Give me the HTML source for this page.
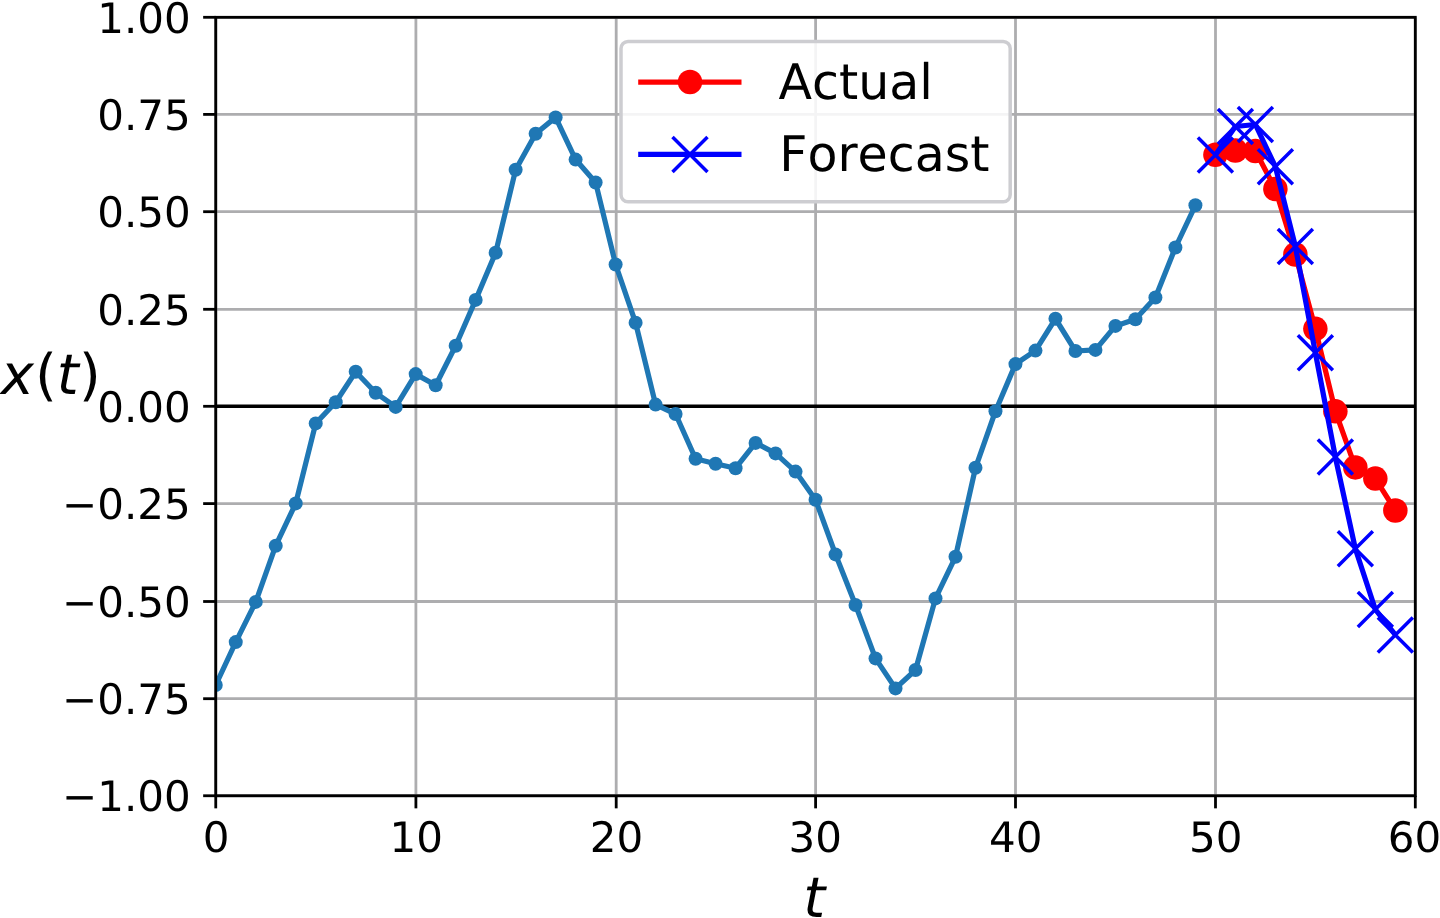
<!DOCTYPE html>
<html lang="en"><head><meta charset="utf-8"><title>Forecast plot</title>
<style>
html,body{margin:0;padding:0;background:#fff;}
body{width:1440px;height:918px;overflow:hidden;}
svg{display:block;}
text{font-family:"DejaVu Sans","Liberation Sans",sans-serif;fill:#000;font-kerning:none;text-rendering:geometricPrecision;}
.tk{font-size:42px;}
.lg{font-size:49px;}
.ax{font-size:56px;}
.it{font-style:italic;}
</style></head><body>
<svg width="1440" height="918" viewBox="0 0 1440 918">
<rect width="1440" height="918" fill="#fff"/>
<defs><clipPath id="c"><rect x="215.75" y="17.30" width="1199.55" height="778.45"/></clipPath>
<g id="xm"><path d="M-17.5,-17.5L17.5,17.5M-17.5,17.5L17.5,-17.5" stroke="#0000ff" stroke-width="3.5" fill="none"/></g>
</defs>
<g stroke="#adadaf" stroke-width="2.8" fill="none">
<line x1="215.75" y1="17.3" x2="215.75" y2="795.75"/>
<line x1="415.9" y1="17.3" x2="415.9" y2="795.75"/>
<line x1="616.2" y1="17.3" x2="616.2" y2="795.75"/>
<line x1="815.6" y1="17.3" x2="815.6" y2="795.75"/>
<line x1="1015.5" y1="17.3" x2="1015.5" y2="795.75"/>
<line x1="1215.5" y1="17.3" x2="1215.5" y2="795.75"/>
<line x1="1415.3" y1="17.3" x2="1415.3" y2="795.75"/>
<line x1="215.75" y1="17.3" x2="1415.3" y2="17.3"/>
<line x1="215.75" y1="114.4" x2="1415.3" y2="114.4"/>
<line x1="215.75" y1="211.7" x2="1415.3" y2="211.7"/>
<line x1="215.75" y1="309.3" x2="1415.3" y2="309.3"/>
<line x1="215.75" y1="406.3" x2="1415.3" y2="406.3"/>
<line x1="215.75" y1="503.6" x2="1415.3" y2="503.6"/>
<line x1="215.75" y1="601.5" x2="1415.3" y2="601.5"/>
<line x1="215.75" y1="698.7" x2="1415.3" y2="698.7"/>
<line x1="215.75" y1="795.75" x2="1415.3" y2="795.75"/>
</g>
<g clip-path="url(#c)">
<line x1="215.75" y1="406.3" x2="1420.3" y2="406.3" stroke="#000" stroke-width="3.5"/>
<polyline points="215.75,685.00 235.74,642.10 255.74,601.90 275.73,545.70 295.72,503.40 315.71,423.40 335.71,402.20 355.70,371.80 375.69,392.80 395.69,406.90 415.68,374.10 435.67,385.30 455.67,345.70 475.66,299.90 495.65,252.70 515.64,169.75 535.64,133.75 555.63,117.40 575.62,159.60 595.62,182.50 615.61,264.50 635.60,322.80 655.60,404.60 675.59,414.00 695.58,458.80 715.58,463.70 735.57,468.20 755.56,442.90 775.55,453.40 795.55,471.60 815.54,499.70 835.53,554.40 855.53,605.00 875.52,658.40 895.51,688.40 915.50,670.00 935.50,598.40 955.49,556.80 975.48,467.80 995.48,411.20 1015.47,364.10 1035.46,350.60 1055.46,318.75 1075.45,351.00 1095.44,349.90 1115.43,325.90 1135.43,319.30 1155.42,297.50 1175.41,247.50 1195.41,205.30" fill="none" stroke="#1f77b4" stroke-width="5.25" stroke-linejoin="round" stroke-linecap="butt"/>
<g fill="#1f77b4">
<circle cx="215.75" cy="685.00" r="7.0"/>
<circle cx="235.74" cy="642.10" r="7.0"/>
<circle cx="255.74" cy="601.90" r="7.0"/>
<circle cx="275.73" cy="545.70" r="7.0"/>
<circle cx="295.72" cy="503.40" r="7.0"/>
<circle cx="315.71" cy="423.40" r="7.0"/>
<circle cx="335.71" cy="402.20" r="7.0"/>
<circle cx="355.70" cy="371.80" r="7.0"/>
<circle cx="375.69" cy="392.80" r="7.0"/>
<circle cx="395.69" cy="406.90" r="7.0"/>
<circle cx="415.68" cy="374.10" r="7.0"/>
<circle cx="435.67" cy="385.30" r="7.0"/>
<circle cx="455.67" cy="345.70" r="7.0"/>
<circle cx="475.66" cy="299.90" r="7.0"/>
<circle cx="495.65" cy="252.70" r="7.0"/>
<circle cx="515.64" cy="169.75" r="7.0"/>
<circle cx="535.64" cy="133.75" r="7.0"/>
<circle cx="555.63" cy="117.40" r="7.0"/>
<circle cx="575.62" cy="159.60" r="7.0"/>
<circle cx="595.62" cy="182.50" r="7.0"/>
<circle cx="615.61" cy="264.50" r="7.0"/>
<circle cx="635.60" cy="322.80" r="7.0"/>
<circle cx="655.60" cy="404.60" r="7.0"/>
<circle cx="675.59" cy="414.00" r="7.0"/>
<circle cx="695.58" cy="458.80" r="7.0"/>
<circle cx="715.58" cy="463.70" r="7.0"/>
<circle cx="735.57" cy="468.20" r="7.0"/>
<circle cx="755.56" cy="442.90" r="7.0"/>
<circle cx="775.55" cy="453.40" r="7.0"/>
<circle cx="795.55" cy="471.60" r="7.0"/>
<circle cx="815.54" cy="499.70" r="7.0"/>
<circle cx="835.53" cy="554.40" r="7.0"/>
<circle cx="855.53" cy="605.00" r="7.0"/>
<circle cx="875.52" cy="658.40" r="7.0"/>
<circle cx="895.51" cy="688.40" r="7.0"/>
<circle cx="915.50" cy="670.00" r="7.0"/>
<circle cx="935.50" cy="598.40" r="7.0"/>
<circle cx="955.49" cy="556.80" r="7.0"/>
<circle cx="975.48" cy="467.80" r="7.0"/>
<circle cx="995.48" cy="411.20" r="7.0"/>
<circle cx="1015.47" cy="364.10" r="7.0"/>
<circle cx="1035.46" cy="350.60" r="7.0"/>
<circle cx="1055.46" cy="318.75" r="7.0"/>
<circle cx="1075.45" cy="351.00" r="7.0"/>
<circle cx="1095.44" cy="349.90" r="7.0"/>
<circle cx="1115.43" cy="325.90" r="7.0"/>
<circle cx="1135.43" cy="319.30" r="7.0"/>
<circle cx="1155.42" cy="297.50" r="7.0"/>
<circle cx="1175.41" cy="247.50" r="7.0"/>
<circle cx="1195.41" cy="205.30" r="7.0"/>
</g>
<polyline points="1215.40,154.80 1235.39,150.50 1255.39,151.00 1275.38,189.00 1295.37,254.50 1315.37,328.80 1335.36,411.30 1355.35,467.40 1375.34,478.60 1395.34,510.50" fill="none" stroke="#ff0000" stroke-width="5.25" stroke-linejoin="round"/>
<g fill="#ff0000">
<circle cx="1215.40" cy="154.80" r="12.25"/>
<circle cx="1235.39" cy="150.50" r="12.25"/>
<circle cx="1255.39" cy="151.00" r="12.25"/>
<circle cx="1275.38" cy="189.00" r="12.25"/>
<circle cx="1295.37" cy="254.50" r="12.25"/>
<circle cx="1315.37" cy="328.80" r="12.25"/>
<circle cx="1335.36" cy="411.30" r="12.25"/>
<circle cx="1355.35" cy="467.40" r="12.25"/>
<circle cx="1375.34" cy="478.60" r="12.25"/>
<circle cx="1395.34" cy="510.50" r="12.25"/>
</g>
<polyline points="1215.40,155.00 1235.39,126.50 1255.39,124.50 1275.38,166.70 1295.37,246.50 1315.37,352.70 1335.36,457.10 1355.35,548.70 1375.34,609.50 1395.34,634.90" fill="none" stroke="#0000ff" stroke-width="5.25" stroke-linejoin="round"/>
<use href="#xm" x="1215.40" y="155.00"/>
<use href="#xm" x="1235.39" y="126.50"/>
<use href="#xm" x="1255.39" y="124.50"/>
<use href="#xm" x="1275.38" y="166.70"/>
<use href="#xm" x="1295.37" y="246.50"/>
<use href="#xm" x="1315.37" y="352.70"/>
<use href="#xm" x="1335.36" y="457.10"/>
<use href="#xm" x="1355.35" y="548.70"/>
<use href="#xm" x="1375.34" y="609.50"/>
<use href="#xm" x="1395.34" y="634.90"/>
</g>
<rect x="215.75" y="17.3" width="1199.55" height="778.45" fill="none" stroke="#000" stroke-width="2.8"/>
<g stroke="#000" stroke-width="2.8">
<line x1="215.75" y1="795.75" x2="215.75" y2="808.35"/>
<line x1="415.9" y1="795.75" x2="415.9" y2="808.35"/>
<line x1="616.2" y1="795.75" x2="616.2" y2="808.35"/>
<line x1="815.6" y1="795.75" x2="815.6" y2="808.35"/>
<line x1="1015.5" y1="795.75" x2="1015.5" y2="808.35"/>
<line x1="1215.5" y1="795.75" x2="1215.5" y2="808.35"/>
<line x1="1415.3" y1="795.75" x2="1415.3" y2="808.35"/>
<line x1="215.75" y1="17.3" x2="203.15" y2="17.3"/>
<line x1="215.75" y1="114.4" x2="203.15" y2="114.4"/>
<line x1="215.75" y1="211.7" x2="203.15" y2="211.7"/>
<line x1="215.75" y1="309.3" x2="203.15" y2="309.3"/>
<line x1="215.75" y1="406.3" x2="203.15" y2="406.3"/>
<line x1="215.75" y1="503.6" x2="203.15" y2="503.6"/>
<line x1="215.75" y1="601.5" x2="203.15" y2="601.5"/>
<line x1="215.75" y1="698.7" x2="203.15" y2="698.7"/>
<line x1="215.75" y1="795.75" x2="203.15" y2="795.75"/>
</g>
<g class="tk" text-anchor="middle">
<text x="216.05" y="852.2">0</text>
<text x="416.20" y="852.2">10</text>
<text x="616.50" y="852.2">20</text>
<text x="815.30" y="852.2">30</text>
<text x="1015.80" y="852.2">40</text>
<text x="1215.70" y="852.2">50</text>
<text x="1414.40" y="852.2">60</text>
</g>
<g class="tk" text-anchor="end">
<text x="190.8" y="32.50">1.00</text>
<text x="190.8" y="129.60">0.75</text>
<text x="190.8" y="226.90">0.50</text>
<text x="190.8" y="324.50">0.25</text>
<text x="190.8" y="421.50">0.00</text>
<text x="190.8" y="518.80">−0.25</text>
<text x="190.8" y="616.70">−0.50</text>
<text x="190.8" y="713.90">−0.75</text>
<text x="190.8" y="810.95">−1.00</text>
</g>
<text class="ax it" x="814.3" y="916.6" text-anchor="middle">t</text>
<text class="ax" y="394"><tspan class="it" x="0.8">x</tspan><tspan x="35.1">(</tspan><tspan class="it" x="56.8">t</tspan><tspan x="78.9">)</tspan></text>
<rect x="621.0" y="41.5" width="389.2" height="160.3" rx="7" ry="7" fill="#fff" fill-opacity="0.87" stroke="#cdcdd1" stroke-width="3.5"/>
<line x1="638.2" y1="82" x2="741.5" y2="82" stroke="#ff0000" stroke-width="5.25"/>
<circle cx="690" cy="82" r="12.25" fill="#ff0000"/>
<line x1="638.2" y1="154.4" x2="741.5" y2="154.4" stroke="#0000ff" stroke-width="5.25"/>
<use href="#xm" x="690" y="154.4"/>
<text class="lg" x="778.5" y="98.8">Actual</text>
<text class="lg" x="779.3" y="171.2">Forecast</text>
</svg></body></html>
